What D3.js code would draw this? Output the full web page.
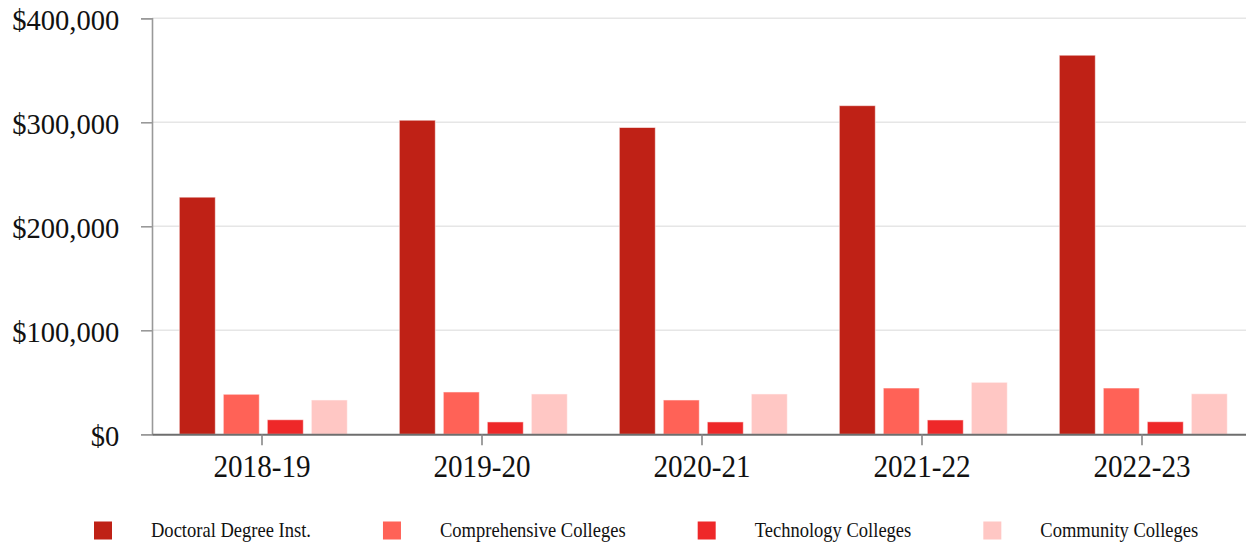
<!DOCTYPE html>
<html>
<head>
<meta charset="utf-8">
<script src="https://cdn.jsdelivr.net/npm/d3@7"></script>
<style>
  html, body { margin: 0; padding: 0; background: #fff; }
  svg { display: block; }
  text { font-family: "Liberation Serif", "Times New Roman", serif; fill: #111; }
</style>
</head>
<body>
<svg id="chart" width="1246" height="543"></svg>
<script>
// ---- data ----
const years = ["2018-19", "2019-20", "2020-21", "2021-22", "2022-23"];
const seriesNames = ["Doctoral Degree Inst.", "Comprehensive Colleges", "Technology Colleges", "Community Colleges"];
const doctoral = [228000, 302000, 295000, 316000, 364500];
const comprehensive = [38500, 40700, 33000, 44500, 44500];
const technology = [14000, 11900, 11900, 13800, 12100];
const community = [33000, 38800, 38800, 50000, 39000];
const seriesColors = ["#bf2116", "#ff6257", "#ee2829", "#ffc7c4"];
const yTicks = [0, 100000, 200000, 300000, 400000];

const seriesValues = [doctoral, comprehensive, technology, community];

// ---- layout ----
const svg = d3.select("#chart");
const plotLeft = 152, plotRight = 1252, plotTop = 18.3, plotBottom = 434.3;
const syScale = 0.952;  // horizontal text compression for y labels
const legScale = 0.904; // horizontal text compression for legend

const x = d3.scaleBand().domain(years).range([plotLeft, plotRight]).padding(0);
const x1 = d3.scaleBand().domain(seriesNames).range([27.3, 195.3]).paddingInner(0.182).paddingOuter(0);
const y = d3.scaleLinear().domain([0, 400000]).range([plotBottom, plotTop]);

// gridlines
svg.append("g").selectAll("line")
  .data(yTicks.filter(d => d > 0))
  .join("line")
  .attr("x1", plotLeft).attr("x2", 1246)
  .attr("y1", d => y(d)).attr("y2", d => y(d))
  .attr("stroke", "#e6e6e6").attr("stroke-width", 1.5);

// bars
const groups = svg.append("g").selectAll("g")
  .data(years)
  .join("g")
  .attr("transform", d => `translate(${x(d)},0)`);

groups.selectAll("rect")
  .data((yr, i) => seriesNames.map((s, k) => ({ s, k, v: seriesValues[k][i] })))
  .join("rect")
  .attr("x", d => x1(d.s))
  .attr("width", x1.bandwidth())
  .attr("y", d => y(d.v))
  .attr("height", d => y(0) - y(d.v))
  .attr("fill", d => seriesColors[d.k])
  .attr("stroke", "rgba(255,255,255,0.55)")
  .attr("stroke-width", 1);

// y axis
const yAxis = svg.append("g")
  .attr("transform", `translate(${plotLeft},0)`)
  .call(d3.axisLeft(y).tickValues(yTicks).tickSize(11).tickFormat(d => "$" + d3.format(",")(d)));
yAxis.select(".domain").attr("stroke", "#999").attr("stroke-width", 1.6);
yAxis.selectAll(".tick line").attr("stroke", "#999").attr("stroke-width", 1.6);
yAxis.selectAll(".tick text")
  .attr("x", -32.7 / syScale)
  .attr("dy", "0.38em")
  .attr("transform", `scale(${syScale},1)`)
  .style("font-size", "30px")
  .style("font-family", "'Liberation Serif', 'Times New Roman', serif")
  .attr("fill", "#111");

// x axis
const xAxis = svg.append("g")
  .attr("transform", `translate(0,${plotBottom})`)
  .call(d3.axisBottom(x).tickSize(11).tickSizeOuter(0));
xAxis.select(".domain").attr("stroke", "#6e6e6e").attr("stroke-width", 2);
xAxis.selectAll(".tick line").attr("stroke", "#888").attr("stroke-width", 1.6);
xAxis.selectAll(".tick text")
  .attr("y", 43)
  .attr("dy", 0)
  .attr("transform", `scale(0.91,1)`)
  .style("font-size", "32px")
  .style("font-family", "'Liberation Serif', 'Times New Roman', serif")
  .attr("fill", "#111");

// legend (flow layout)
const legend = svg.append("g");
let lx = 94;
seriesNames.forEach((name, k) => {
  const g = legend.append("g").attr("transform", `translate(${lx},0)`);
  g.append("rect")
    .attr("x", 0).attr("y", 521.5)
    .attr("width", 18).attr("height", 18)
    .attr("fill", seriesColors[k]);
  const t = g.append("text")
    .attr("x", 57 / legScale).attr("y", 537.5)
    .attr("transform", `scale(${legScale},1)`)
    .style("font-size", "20.5px")
    .text(name);
  const w = t.node().getComputedTextLength() * legScale;
  lx += 57 + w + 72;
});
</script>
</body>
</html>
